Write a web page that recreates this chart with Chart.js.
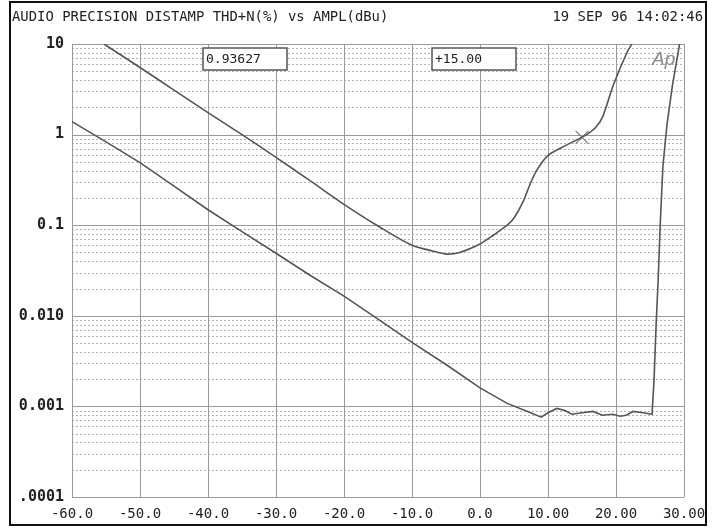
<!DOCTYPE html>
<html>
<head>
<meta charset="utf-8">
<script src="https://cdn.jsdelivr.net/npm/chart.js@4"></script>
<style>
  html, body { margin: 0; padding: 0; background: #fff; }
  #wrap { position: relative; width: 715px; height: 528px; }
</style>
</head>
<body>
<div id="wrap"><canvas id="chart" width="715" height="528"></canvas></div>
<script>
/* Audio Precision sweep: THD+N (%) against amplitude (dBu), two runs */
var ampUpper = [-55.3, -50, -45, -40, -35, -30, -25, -20, -15, -10, -7, -5, -3, 0, 2, 4, 5, 6.3, 7.5, 8.4, 9.9, 12, 14.3, 15.7, 17, 18, 19.6, 21.6, 22.5];
var thdUpper = [10, 5.5, 3.1, 1.75, 1.0, 0.56, 0.31, 0.17, 0.098, 0.06, 0.052, 0.048, 0.05, 0.062, 0.078, 0.1, 0.12, 0.18, 0.3, 0.41, 0.58, 0.72, 0.88, 1.0, 1.2, 1.55, 3.5, 8, 10.5];

var ampLower = [-60, -55, -50, -45, -40, -35, -30, -25, -20, -15, -10, -5, 0, 4, 7, 9, 10, 11.3, 12.5, 13.5, 15, 16.6, 18, 19.5, 20.6, 21.5, 22.5, 24, 25.3, 25.6, 25.9, 26.2, 26.5, 26.9, 27.5, 28.3, 29.4];
var thdLower = [1.39, 0.83, 0.49, 0.27, 0.148, 0.085, 0.049, 0.028, 0.0165, 0.0092, 0.0051, 0.0029, 0.0016, 0.00108, 0.00088, 0.00076, 0.00085, 0.00095, 0.0009, 0.00082, 0.00085, 0.00088, 0.0008, 0.00082, 0.00078, 0.0008, 0.00088, 0.00085, 0.00082, 0.002, 0.008, 0.025, 0.1, 0.45, 1.3, 3.5, 10.5];

/* cursor readout */
var cursorAmp = [15.0];
var cursorThd = [0.93627];

var xTicks = [-60, -50, -40, -30, -20, -10, 0, 10, 20, 30];
var xTickLabels = ['-60.0', '-50.0', '-40.0', '-30.0', '-20.0', '-10.0', '0.0', '10.00', '20.00', '30.00'];
var yTicks = [10, 1, 0.1, 0.01, 0.001, 0.0001];
var yTickLabels = ['10', '1', '0.1', '0.010', '0.001', '.0001'];

var TITLE = 'AUDIO PRECISION DISTAMP THD+N(%) vs AMPL(dBu)';
var STAMP = '19 SEP 96 14:02:46';

var MONO = "'DejaVu Sans Mono', 'Liberation Mono', monospace";
var INK = '#222';
var CURVE = '#555';
var GRID_MAJOR = '#9a9a9a';
var GRID_MINOR = '#b4b4b4';

function pts(xs, ys) {
  return xs.map(function(x, i) { return { x: x, y: ys[i] }; });
}

/* grid + frame + readout boxes */
var panelPlugin = {
  id: 'panel',
  beforeDatasetsDraw: function(chart) {
    var ctx = chart.ctx;
    var xs = chart.scales.x, ys = chart.scales.y;
    var a = chart.chartArea;
    ctx.save();
    ctx.lineWidth = 1;

    /* minor horizontal lines, 2..9 per decade */
    ctx.strokeStyle = GRID_MINOR;
    ctx.setLineDash([2, 2]);
    for (var e = -4; e <= 0; e++) {
      for (var m = 2; m <= 9; m++) {
        var y = Math.round(ys.getPixelForValue(m * Math.pow(10, e))) + 0.5;
        ctx.beginPath();
        ctx.moveTo(a.left, y);
        ctx.lineTo(a.right, y);
        ctx.stroke();
      }
    }

    /* decades */
    ctx.setLineDash([]);
    ctx.strokeStyle = GRID_MAJOR;
    yTicks.forEach(function(v) {
      var y = Math.round(ys.getPixelForValue(v)) + 0.5;
      ctx.beginPath();
      ctx.moveTo(a.left, y);
      ctx.lineTo(a.right, y);
      ctx.stroke();
    });
    xTicks.forEach(function(v) {
      var x = Math.round(xs.getPixelForValue(v)) + 0.5;
      ctx.beginPath();
      ctx.moveTo(x, a.top);
      ctx.lineTo(x, a.bottom);
      ctx.stroke();
    });
    ctx.restore();
  },
  afterDraw: function(chart) {
    var ctx = chart.ctx;
    ctx.save();

    /* outer frame */
    ctx.strokeStyle = '#111';
    ctx.lineWidth = 2;
    ctx.strokeRect(10, 2, 696, 523);

    /* heading */
    ctx.fillStyle = INK;
    ctx.font = '13.9px ' + MONO;
    ctx.textBaseline = 'middle';
    ctx.textAlign = 'left';
    ctx.fillText(TITLE, 12, 17);
    ctx.textAlign = 'right';
    ctx.fillText(STAMP, 703, 17);

    /* readout boxes */
    ctx.lineWidth = 1.5;
    ctx.strokeStyle = '#555';
    [[203, cursorThd[0].toFixed(5)], [432, '+' + cursorAmp[0].toFixed(2)]].forEach(function(b) {
      ctx.fillStyle = '#fff';
      ctx.fillRect(b[0], 48, 84, 22);
      ctx.strokeRect(b[0], 48, 84, 22);
      ctx.fillStyle = INK;
      ctx.font = '13px ' + MONO;
      ctx.textAlign = 'left';
      ctx.fillText(b[1], b[0] + 3, 60);
    });

    /* Ap logo */
    ctx.fillStyle = '#8a8a8a';
    ctx.font = 'italic 19px "Liberation Sans", sans-serif';
    ctx.textAlign = 'left';
    ctx.fillText('Ap', 652, 60);
    ctx.restore();
  }
};

new Chart(document.getElementById('chart').getContext('2d'), {
  type: 'scatter',
  data: {
    datasets: [
      {
        label: 'upper',
        data: pts(ampUpper, thdUpper),
        showLine: true,
        borderColor: CURVE,
        borderWidth: 1.6,
        pointRadius: 0,
        tension: 0.3
      },
      {
        label: 'lower',
        data: pts(ampLower, thdLower),
        showLine: true,
        borderColor: CURVE,
        borderWidth: 1.6,
        pointRadius: 0,
        tension: 0
      },
      {
        label: 'cursor',
        data: pts(cursorAmp, cursorThd),
        pointStyle: 'crossRot',
        pointRadius: 9,
        borderColor: '#777',
        borderWidth: 1.2,
        backgroundColor: 'transparent'
      }
    ]
  },
  options: {
    responsive: false,
    animation: false,
    events: [],
    layout: { padding: { left: 0, top: 44, right: 31, bottom: 0 } },
    plugins: { legend: { display: false }, tooltip: { enabled: false } },
    scales: {
      x: {
        type: 'linear',
        min: -60,
        max: 30,
        afterFit: function(s) { s.height = 31; },
        afterBuildTicks: function(s) { s.ticks = xTicks.map(function(v) { return { value: v }; }); },
        grid: { display: false },
        border: { display: false },
        ticks: {
          padding: 1,
          maxRotation: 0,
          autoSkip: false,
          color: INK,
          font: { family: MONO, size: 14 },
          callback: function(v) {
            var i = xTicks.indexOf(v);
            return i < 0 ? '' : xTickLabels[i];
          }
        }
      },
      y: {
        type: 'logarithmic',
        min: 0.0001,
        max: 10,
        afterFit: function(s) { s.width = 72; },
        afterBuildTicks: function(s) { s.ticks = yTicks.map(function(v) { return { value: v }; }); },
        grid: { display: false },
        border: { display: false },
        ticks: {
          padding: 0,
          autoSkip: false,
          color: INK,
          font: { family: MONO, size: 15, weight: 'bold' },
          callback: function(v) {
            for (var i = 0; i < yTicks.length; i++) {
              if (Math.abs(v - yTicks[i]) / yTicks[i] < 1e-6) return yTickLabels[i];
            }
            return '';
          }
        }
      }
    }
  },
  plugins: [panelPlugin]
});
</script>
</body>
</html>
